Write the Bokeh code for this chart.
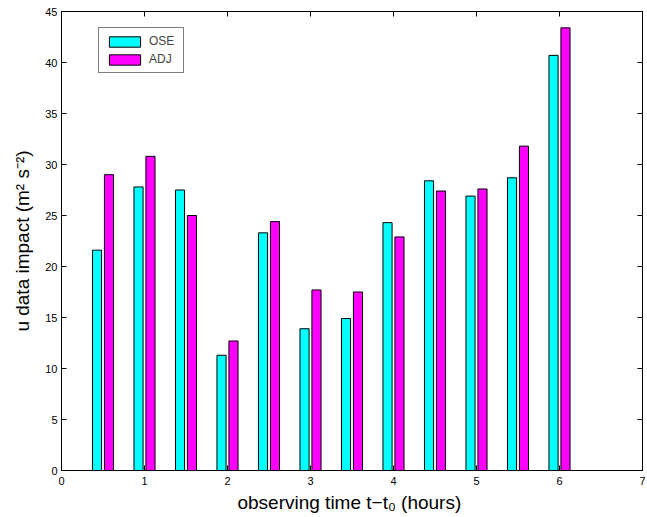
from bokeh.plotting import figure
from bokeh.models import ColumnDataSource, LinearAxis, FixedTicker, Range1d, Legend, LegendItem
from bokeh.transform import dodge
from bokeh.embed import file_html
from bokeh.resources import INLINE

# data
times = [0.5, 1.0, 1.5, 2.0, 2.5, 3.0, 3.5, 4.0, 4.5, 5.0, 5.5, 6.0]
ose = [21.6, 27.8, 27.5, 11.3, 23.3, 13.9, 14.9, 24.3, 28.4, 26.9, 28.7, 40.7]
adj = [29.0, 30.8, 25.0, 12.7, 24.4, 17.7, 17.5, 22.9, 27.4, 27.6, 31.8, 43.4]
x_ticks = [0, 1, 2, 3, 4, 5, 6, 7]
y_ticks = [0, 5, 10, 15, 20, 25, 30, 35, 40, 45]
series_names = ["OSE", "ADJ"]
series_colors = ["#00FFFF", "#FF00FF"]

FONT = "Liberation Sans"

src = ColumnDataSource(data=dict(t=times, ose=ose, adj=adj))

FRAME_H = 459
p = figure(width=645, height=515, output_backend="svg", toolbar_location=None,
           x_range=Range1d(0, 7), y_range=Range1d(0, 45),
           min_border_left=61, min_border_right=3, min_border_top=11, min_border_bottom=45)
p.background_fill_color = "white"
p.border_fill_color = "white"
p.outline_line_color = "black"
p.outline_line_width = 1
p.xgrid.visible = False
p.ygrid.visible = False

r1 = p.vbar(x=dodge("t", -0.072, range=p.x_range), top="ose", width=0.11, source=src,
            fill_color=series_colors[0], line_color="black", line_width=1)
r2 = p.vbar(x=dodge("t", 0.072, range=p.x_range), top="adj", width=0.11, source=src,
            fill_color=series_colors[1], line_color="black", line_width=1)

xa = p.xaxis[0]
xa.ticker = FixedTicker(ticks=x_ticks)
ya = p.yaxis[0]
ya.ticker = FixedTicker(ticks=y_ticks)
for ax in (xa, ya):
    ax.major_tick_in = 5
    ax.major_tick_out = 0
    ax.minor_tick_in = 0
    ax.minor_tick_out = 0
    ax.axis_line_color = "black"
    ax.major_tick_line_color = "black"
    ax.major_label_text_font = FONT
    ax.major_label_text_font_size = "11px"
    ax.major_label_text_color = "black"
    ax.axis_label_text_font = FONT
    ax.axis_label_text_font_size = "19px"
    ax.axis_label_text_font_style = "normal"
    ax.axis_label_text_color = "black"
xa.major_label_standoff = 6
ya.major_label_standoff = 4
xa.axis_label = "observing time t\u2212t\u2080  (hours)"
ya.axis_label = "u data impact (m\u00b2 s\u207b\u00b2)"
xa.axis_label_standoff = 4
ya.axis_label_standoff = 9

# box ticks on top and right (no labels)
top = LinearAxis(ticker=FixedTicker(ticks=x_ticks),
                 major_label_overrides={t: "" for t in x_ticks})
right = LinearAxis(ticker=FixedTicker(ticks=y_ticks),
                   major_label_overrides={t: "" for t in y_ticks})
for ax in (top, right):
    ax.major_tick_in = 5
    ax.major_tick_out = 0
    ax.minor_tick_in = 0
    ax.minor_tick_out = 0
    ax.major_label_standoff = 0
    ax.axis_line_color = "black"
    ax.major_tick_line_color = "black"
p.add_layout(top, "above")
p.add_layout(right, "right")

legend = Legend(items=[LegendItem(label=series_names[0], renderers=[r1]),
                       LegendItem(label=series_names[1], renderers=[r2])],
                location=(37, FRAME_H - 20 - 42), margin=0, padding=6, spacing=4,
                glyph_width=39, glyph_height=13, label_standoff=5,
                label_text_font=FONT, label_text_font_size="12px",
                label_height=13, label_width=28,
                border_line_color="black", border_line_width=1,
                background_fill_color="white", background_fill_alpha=1)
p.add_layout(legend, "center")

open("out.html", "w").write(file_html(p, INLINE))
